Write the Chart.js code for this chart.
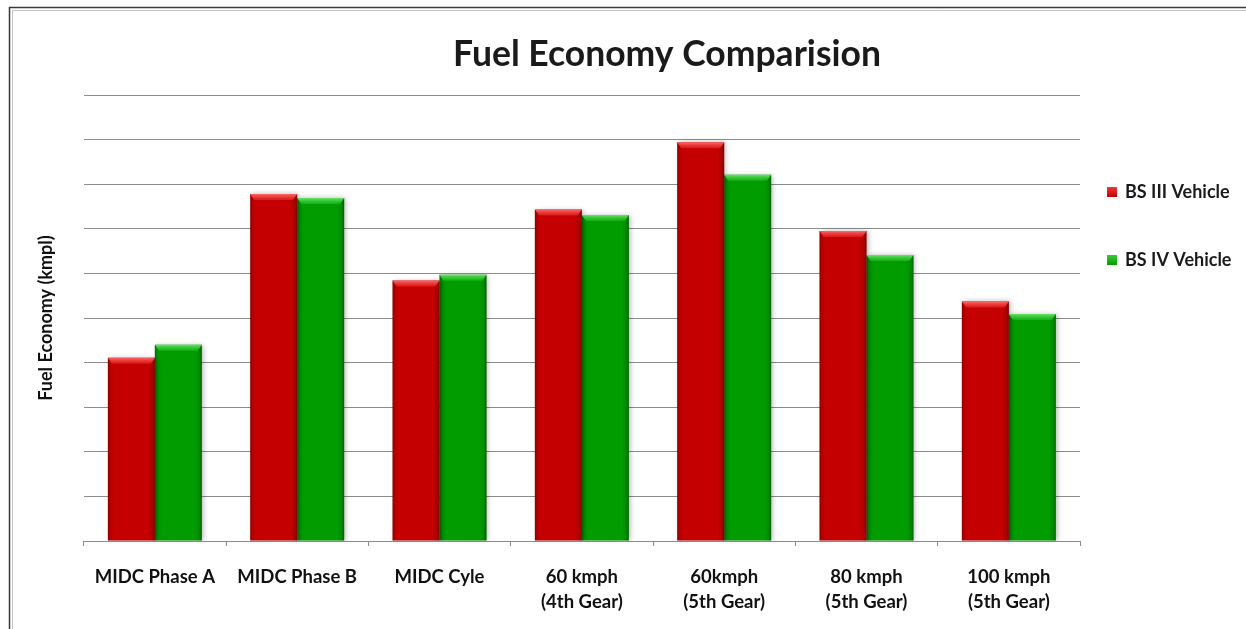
<!DOCTYPE html>
<html>
<head>
<meta charset="utf-8">
<title>Fuel Economy Comparision</title>
<script src="https://cdn.jsdelivr.net/npm/chart.js@4.4.1/dist/chart.umd.min.js"></script>
<style>
  html, body { margin: 0; padding: 0; background: #ffffff; }
  #wrap { position: relative; width: 1246px; height: 629px; }
  canvas { display: block; }
</style>
</head>
<body>
<div id="wrap"><canvas id="chart" width="1246" height="629"></canvas></div>
<script>
// Test cycles on the category axis (multi-line labels are arrays)
const categories = [
  ['MIDC Phase A'],
  ['MIDC Phase B'],
  ['MIDC Cyle'],
  ['60 kmph', '(4th Gear)'],
  ['60kmph', '(5th Gear)'],
  ['80 kmph', '(5th Gear)'],
  ['100 kmph', '(5th Gear)']
];

// Fuel economy per cycle, one array per vehicle
const bsIII = [4.11, 7.78, 5.84, 7.43, 8.94, 6.95, 5.37];
const bsIV  = [4.40, 7.69, 5.97, 7.31, 8.21, 6.41, 5.09];

const seriesNames = ['BS III Vehicle', 'BS IV Vehicle'];
const yMin = 0, yMax = 10, yStep = 1;

const FONT = 'Lato, "Open Sans", "DejaVu Sans", sans-serif';

// Frame, title and legend drawn around the plot
const decor = {
  id: 'decor',
  beforeDraw(chart) {
    const ctx = chart.ctx;
    ctx.save();
    ctx.fillStyle = '#ffffff';
    ctx.fillRect(0, 0, chart.width, chart.height);
    // outer frame (left and top edges)
    ctx.strokeStyle = '#3a3a3a';
    ctx.lineWidth = 1.5;
    ctx.beginPath();
    ctx.moveTo(9.5, chart.height + 5);
    ctx.lineTo(9.5, 7.5);
    ctx.lineTo(chart.width + 5, 7.5);
    ctx.stroke();
    ctx.strokeStyle = '#c4c4c4';
    ctx.lineWidth = 1;
    ctx.beginPath();
    ctx.moveTo(12.5, chart.height + 5);
    ctx.lineTo(12.5, 10.5);
    ctx.lineTo(chart.width + 5, 10.5);
    ctx.stroke();
    ctx.restore();
  },
  afterDraw(chart) {
    const ctx = chart.ctx;
    ctx.save();
    // title
    ctx.fillStyle = '#1a1a1a';
    ctx.font = 'bold 35.5px ' + FONT;
    ctx.textAlign = 'center';
    ctx.textBaseline = 'middle';
    ctx.fillText('Fuel Economy Comparision', 667, 55);

    // legend
    const area = chart.chartArea;
    const lx = area.right + 27;
    const ys = [192, 260];
    chart.data.datasets.forEach((ds, i) => {
      const y = ys[i];
      const g = ctx.createLinearGradient(0, y - 5, 0, y + 5);
      g.addColorStop(0, ds.legendLight);
      g.addColorStop(1, ds.backgroundColor);
      ctx.fillStyle = g;
      ctx.fillRect(lx, y - 5, 10, 10);
      ctx.fillStyle = '#1a1a1a';
      ctx.font = 'bold 18px ' + FONT;
      ctx.textAlign = 'left';
      ctx.textBaseline = 'middle';
      ctx.fillText(ds.label, lx + 18, y);
    });
    ctx.restore();
  }
};

// Soft shadow and cylinder-style shading on each bar
const barShade = {
  id: 'barShade',
  beforeDatasetsDraw(chart) {
    const ctx = chart.ctx;
    ctx.save();
    ctx.shadowColor = 'rgba(0,0,0,0.28)';
    ctx.shadowBlur = 5;
    ctx.shadowOffsetX = 2;
    ctx.shadowOffsetY = 0;
  },
  afterDatasetsDraw(chart) {
    const ctx = chart.ctx;
    ctx.restore();
    ctx.save();
    chart.data.datasets.forEach((ds, di) => {
      const meta = chart.getDatasetMeta(di);
      meta.data.forEach(bar => {
        const p = bar.getProps(['x', 'y', 'width', 'base'], true);
        const left = p.x - p.width / 2;
        const right = p.x + p.width / 2;
        const top = Math.min(p.y, p.base);
        const h = Math.abs(p.base - p.y);
        // side shading
        const g = ctx.createLinearGradient(left, 0, right, 0);
        g.addColorStop(0, 'rgba(0,0,0,0.30)');
        g.addColorStop(0.05, 'rgba(0,0,0,0.08)');
        g.addColorStop(0.12, 'rgba(0,0,0,0)');
        g.addColorStop(0.86, 'rgba(0,0,0,0)');
        g.addColorStop(0.95, 'rgba(0,0,0,0.14)');
        g.addColorStop(1, 'rgba(0,0,0,0.38)');
        ctx.fillStyle = g;
        ctx.fillRect(left, top, p.width, h);
        // bevelled top edge
        const bev = 6;
        const tg = ctx.createLinearGradient(0, top, 0, top + bev);
        tg.addColorStop(0, ds.bevelColor);
        tg.addColorStop(1, ds.bevelColor2);
        ctx.fillStyle = tg;
        ctx.beginPath();
        ctx.moveTo(left, top);
        ctx.lineTo(right, top);
        ctx.lineTo(right - 4, top + bev);
        ctx.lineTo(left + 4, top + bev);
        ctx.closePath();
        ctx.fill();
      });
    });
    ctx.restore();
  }
};

new Chart(document.getElementById('chart'), {
  type: 'bar',
  data: {
    labels: categories,
    datasets: [
      {
        label: seriesNames[0],
        data: bsIII,
        backgroundColor: '#c40000',
        legendLight: '#ee3a3a',
        bevelColor: 'rgba(255,110,110,0.95)',
        bevelColor2: 'rgba(235,40,40,0.6)',
        borderWidth: 0
      },
      {
        label: seriesNames[1],
        data: bsIV,
        backgroundColor: '#009c00',
        legendLight: '#3acb3a',
        bevelColor: 'rgba(110,230,110,0.95)',
        bevelColor2: 'rgba(30,190,30,0.6)',
        borderWidth: 0
      }
    ]
  },
  options: {
    responsive: false,
    animation: false,
    layout: { padding: { left: 10, top: 95, right: 166, bottom: 0 } },
    datasets: {
      bar: { barPercentage: 1.0, categoryPercentage: 0.66 }
    },
    plugins: {
      legend: { display: false },
      title: { display: false },
      tooltip: { enabled: false }
    },
    scales: {
      x: {
        offset: true,
        border: { display: true, color: '#8a8a8a', width: 1 },
        grid: {
          offset: true,
          drawOnChartArea: false,
          drawTicks: true,
          tickLength: 5,
          color: '#8a8a8a'
        },
        ticks: {
          color: '#111111',
          padding: 19,
          maxRotation: 0,
          autoSkip: false,
          font: { family: FONT, size: 18.5, weight: 'bold', lineHeight: 1.35 }
        },
        afterFit(scale) { scale.height = 88; }
      },
      y: {
        min: yMin,
        max: yMax,
        border: { display: false },
        grid: {
          color: '#8c8c8c',
          lineWidth: 1,
          drawTicks: false
        },
        ticks: { display: false, stepSize: yStep },
        title: {
          display: true,
          text: 'Fuel Economy (kmpl)',
          color: '#111111',
          padding: { top: 25, bottom: 0 },
          font: { family: FONT, size: 18, weight: 'bold' }
        },
        afterFit(scale) { scale.width = 73.7; }
      }
    }
  },
  plugins: [decor, barShade]
});
</script>
</body>
</html>
